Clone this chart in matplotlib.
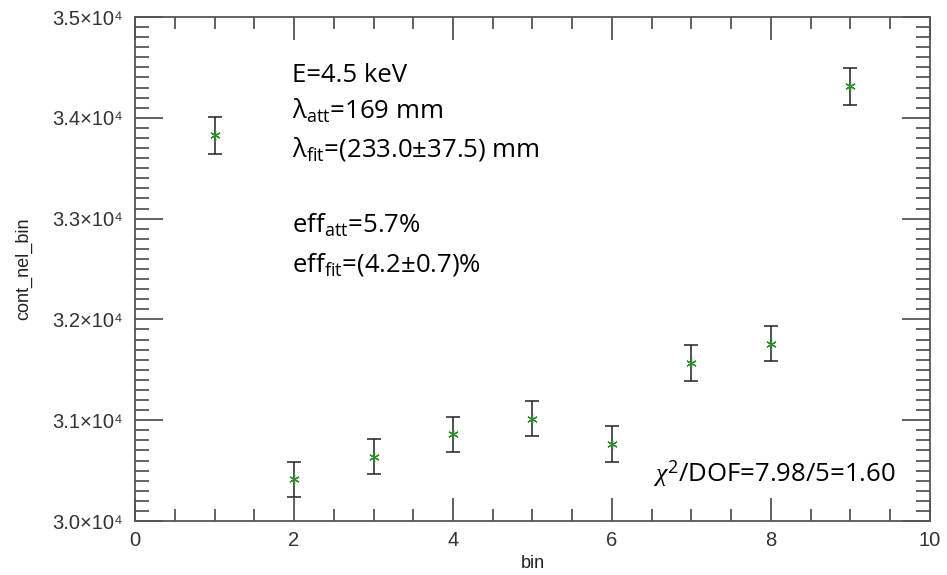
import matplotlib
matplotlib.use("Agg")
import matplotlib.pyplot as plt
from matplotlib.ticker import MultipleLocator, FixedLocator, FuncFormatter

# Counts per bin with their statistical uncertainties
bins = [1, 2, 3, 4, 5, 6, 7, 8, 9]
counts = [33829, 30412, 30637, 30860, 31015, 30764, 31564, 31761, 34312]
errors = [184, 174, 175, 176, 176, 175, 178, 178, 185]

y_ticks = [30000, 31000, 32000, 33000, 34000, 35000]
y_tick_labels = ["3.0×10⁴", "3.1×10⁴", "3.2×10⁴", "3.3×10⁴", "3.4×10⁴", "3.5×10⁴"]

info_lines = [
    "E=4.5 keV",
    r"$\mathrm{\lambda_{att}}$=169 mm",
    r"$\mathrm{\lambda_{fit}}$=(233.0±37.5) mm",
    r"eff$\mathrm{_{att}}$=5.7%",
    r"eff$\mathrm{_{fit}}$=(4.2±0.7)%",
]
chi2_text = r"$\chi^{\mathrm{2}}$/DOF=7.98/5=1.60"

plt.rcParams["mathtext.fontset"] = "custom"
plt.rcParams["mathtext.rm"] = "Open Sans"
plt.rcParams["mathtext.it"] = "Liberation Serif:italic"
plt.rcParams["mathtext.bf"] = "Open Sans:bold"

tick_font = ["Liberation Sans", "DejaVu Sans"]
text_font = ["Open Sans", "DejaVu Sans"]
axis_grey = "#555555"
label_grey = "#333333"

fig = plt.figure(figsize=(9.47, 5.75), dpi=100)
ax = fig.add_axes([0.1426, 0.0939, 0.8394, 0.8765])

ax.errorbar(bins, counts, yerr=errors, fmt="none", ecolor="#222222",
            elinewidth=1.1, capsize=5.3, capthick=1.1, zorder=2)
ax.plot(bins, counts, linestyle="none", marker=(6, 2, 0), markersize=7.5,
        markeredgewidth=0.9, color="#2e8b2e", zorder=3)

ax.set_xlim(0, 10)
ax.set_ylim(30000, 35000)
ax.xaxis.set_major_locator(MultipleLocator(2))
ax.xaxis.set_minor_locator(MultipleLocator(0.5))
ax.yaxis.set_major_locator(FixedLocator(y_ticks))
ax.yaxis.set_minor_locator(MultipleLocator(100))
ax.yaxis.set_major_formatter(FuncFormatter(
    lambda v, p: y_tick_labels[y_ticks.index(int(round(v)))] if int(round(v)) in y_ticks else ""))

for s in ax.spines.values():
    s.set_color(axis_grey)
    s.set_linewidth(1.3)

ax.tick_params(axis="both", which="both", direction="in", top=True, right=True,
               color=axis_grey, width=1.3, labelcolor=label_grey)
ax.tick_params(axis="x", which="major", length=16.5, pad=7)
ax.tick_params(axis="x", which="minor", length=8.5)
ax.tick_params(axis="y", which="major", length=20, pad=9)
ax.tick_params(axis="y", which="minor", length=10)

for lab in ax.get_xticklabels() + ax.get_yticklabels():
    lab.set_family(tick_font)
    lab.set_fontsize(14.5)

ax.set_xlabel("bin", family=tick_font, fontsize=13, color="#222222", labelpad=4)
ax.set_ylabel("cont_nel_bin", family=tick_font, fontsize=13, color="#222222", labelpad=14)

info_y = [0.8716, 0.7986, 0.7228, 0.5714, 0.4946]
for txt, yy in zip(info_lines, info_y):
    ax.text(0.1975, yy, txt, transform=ax.transAxes, family=text_font,
            fontsize=18.5, color="black", ha="left", va="baseline")

ax.text(0.6516, 0.078, chi2_text, transform=ax.transAxes, family=text_font,
        fontsize=18.5, color="black", ha="left", va="baseline")

fig.savefig("out.png", dpi=100)
